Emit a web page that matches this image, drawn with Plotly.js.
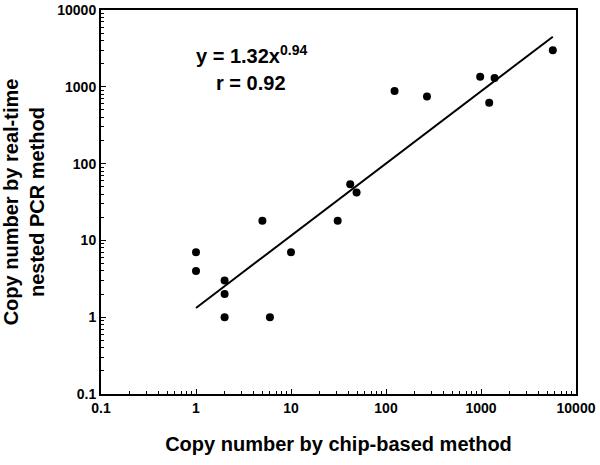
<!DOCTYPE html>
<html>
<head>
<meta charset="utf-8">
<script src="https://cdn.plot.ly/plotly-3.0.1.min.js"></script>
<style>html,body{margin:0;padding:0;background:#fff;}#chart{width:600px;height:465px;}</style>
</head>
<body>
<div id="chart"></div>
<script>
// Scatter data: copy number by chip-based method (x) vs real-time nested PCR (y)
const chipCopies = [1, 1, 2, 2, 2, 6, 10, 5, 31, 42, 49, 123, 270, 980, 1390, 1220, 5700];
const pcrCopies  = [7, 4, 3, 2, 1, 1, 7, 18, 18, 54, 42, 880, 750, 1350, 1300, 620, 3000];
// Fitted power-law line (endpoints)
const fitX = [1, 5700];
const fitY = [1.32, 4480];
const tickVals = [0.1, 1, 10, 100, 1000, 10000];
const tickText = ['0.1', '1', '10', '100', '1000', '10000'];

// minor tick positions (2..9 within each decade)
const minorVals = [];
for (let i = 0; i < tickVals.length - 1; i++) {
  for (let k = 2; k <= 9; k++) minorVals.push(k * tickVals[i]);
}

const font = 'Liberation Sans, Arial, sans-serif';
function makeAxis(titleText, standoff) {
  return {
    type: 'log',
    range: [Math.log10(tickVals[0]), Math.log10(tickVals[tickVals.length - 1])],
    tickmode: 'array',
    tickvals: tickVals.slice(),
    ticktext: tickText.slice(),
    ticks: 'inside',
    ticklen: 5,
    tickwidth: 1,
    tickcolor: '#000000',
    showline: true,
    linecolor: '#000000',
    linewidth: 2,
    mirror: true,
    showgrid: false,
    zeroline: false,
    tickfont: {family: font, size: 14, color: '#000', weight: 'bold'},
    minor: {tickmode: 'array', tickvals: minorVals.slice(), ticks: 'inside', ticklen: 3, tickwidth: 1, tickcolor: '#000000', showgrid: false},
    title: {text: titleText, standoff: standoff,
            font: {family: font, size: 20, color: '#000', weight: 'bold'}}
  };
}

const data = [
  {x: fitX, y: fitY, mode: 'lines', type: 'scatter',
   line: {color: '#000', width: 2}, hoverinfo: 'skip'},
  {x: chipCopies, y: pcrCopies, mode: 'markers', type: 'scatter',
   marker: {color: '#000', size: 8}}
];

const layout = {
  width: 600, height: 465,
  margin: {l: 101, r: 24, t: 10, b: 71},
  paper_bgcolor: '#fff', plot_bgcolor: '#fff',
  showlegend: false,
  font: {family: font, color: '#000'},
  xaxis: makeAxis('Copy number by chip-based method', 22),
  yaxis: makeAxis('Copy number by real-time<br>nested PCR method', 12),
  annotations: [
    {xref: 'paper', yref: 'paper', x: 0.316, y: 0.883, xanchor: 'center', yanchor: 'middle', showarrow: false,
     text: 'y = 1.32x<sup>0.94</sup>', font: {family: font, size: 20, color: '#000', weight: 'bold'}},
    {xref: 'paper', yref: 'paper', x: 0.316, y: 0.81, xanchor: 'center', yanchor: 'middle', showarrow: false,
     text: 'r = 0.92', font: {family: font, size: 20, color: '#000', weight: 'bold'}}
  ]
};

Plotly.newPlot('chart', data, layout, {staticPlot: true, displayModeBar: false});
</script>
</body>
</html>
